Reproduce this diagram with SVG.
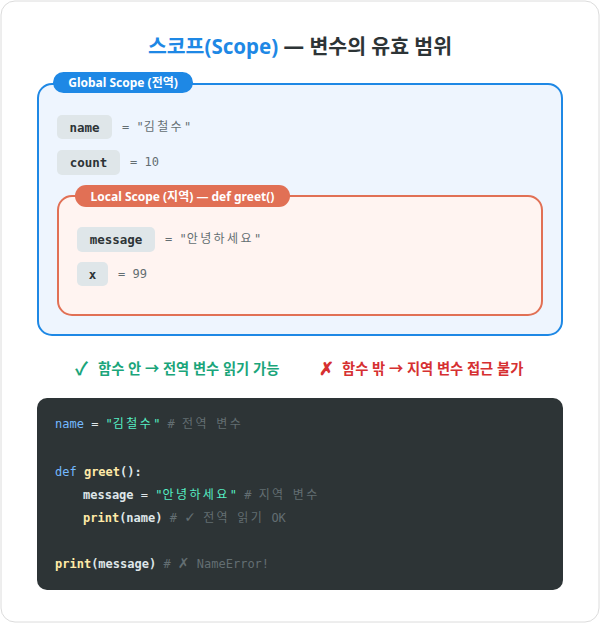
<svg xmlns="http://www.w3.org/2000/svg" width="600" height="623" viewBox="0 0 600 623">
<style>
.ui{font-family:"Noto Sans","Noto Sans CJK KR",sans-serif}
.mono{font-family:"DejaVu Sans Mono","Noto Sans CJK KR",monospace;font-size:12px}
.ko{font-family:"Noto Sans CJK KR",sans-serif;letter-spacing:2.4px}
.sym{font-family:"DejaVu Sans",sans-serif;font-size:14px}
.chip{fill:#dfe6e9}
.chipt{font-family:"DejaVu Sans Mono",monospace;font-size:12.5px;font-weight:bold;fill:#2d3436}
.val{font-family:"DejaVu Sans Mono","Noto Sans CJK KR",monospace;font-size:12px;fill:#636e72}
.pill{font-family:"Noto Sans","Noto Sans CJK KR",sans-serif;font-size:12px;font-weight:bold;fill:#fff}
.kw{fill:#74b9ff}.str{fill:#55efc4}.cm{fill:#636e72}.fn{fill:#ffeaa7}.tx{fill:#dfe6e9}
</style>
<rect x="1" y="1" width="598" height="621" rx="14" fill="#fff" stroke="#dcdcdc"/>
<text x="300" y="54" text-anchor="middle" class="ui" font-size="20.5" font-weight="bold"><tspan fill="#1e88e5">스코프(Scope)</tspan><tspan fill="#2d3436"> — 변수의 유효 범위</tspan></text>

<g id="global">
<rect x="38" y="84" width="524" height="251" rx="14" fill="#eef5fe" stroke="#1e88e5" stroke-width="2"/>
<rect x="53" y="72" width="140" height="21" rx="10.5" fill="#1e88e5"/>
<text x="123" y="87" text-anchor="middle" class="pill">Global Scope (전역)</text>
</g>
<g id="var-name">
<rect x="57" y="115" width="55" height="24" rx="5" class="chip"/>
<text x="84.5" y="132" text-anchor="middle" class="chipt">name</text>
<text x="122" y="131" class="val">= "<tspan class="ko">김철수</tspan>"</text>
</g>
<g id="var-count">
<rect x="57" y="150" width="63" height="25" rx="5" class="chip"/>
<text x="88.5" y="167" text-anchor="middle" class="chipt">count</text>
<text x="130" y="166" class="val">= 10</text>
</g>
<g id="local">
<rect x="58" y="196" width="484" height="119" rx="14" fill="#fff4f1" stroke="#e17055" stroke-width="2"/>
<rect x="75" y="185" width="215" height="22" rx="11" fill="#e17055"/>
<text x="182.5" y="200.5" text-anchor="middle" class="pill">Local Scope (지역) — def greet()</text>
</g>
<g id="var-message">
<rect x="77" y="227" width="78" height="25" rx="5" class="chip"/>
<text x="116" y="244" text-anchor="middle" class="chipt">message</text>
<text x="165" y="243" class="val">= "<tspan class="ko">안녕하세요</tspan>"</text>
</g>
<g id="var-x">
<rect x="77" y="262" width="31" height="24" rx="5" class="chip"/>
<text x="92.5" y="279" text-anchor="middle" class="chipt">x</text>
<text x="118" y="278" class="val">= 99</text>
</g>
<g id="notes" class="ui" font-size="14.3" font-weight="bold">
<text x="75" y="375" fill="#1aa57a"><tspan font-size="18">✓</tspan><tspan x="98" y="374">함수 안 → 전역 변수 읽기 가능</tspan></text>
<text x="319" y="375" fill="#d63031"><tspan font-size="18">✗</tspan><tspan x="342" y="374">함수 밖 → 지역 변수 접근 불가</tspan></text>
</g>
<g id="code">
<rect x="37" y="398" width="526" height="192" rx="10" fill="#2d3436"/>
<text x="55" y="428" class="mono"><tspan class="kw">name</tspan><tspan class="tx"> = </tspan><tspan class="str">"<tspan class="ko">김철수</tspan>"</tspan><tspan class="cm"> # <tspan class="ko">전역</tspan> <tspan class="ko">변수</tspan></tspan></text>
<text x="55" y="476" class="mono"><tspan class="kw">def</tspan><tspan class="fn" font-weight="bold"> greet</tspan><tspan class="tx" font-weight="bold">():</tspan></text>
<text x="83" y="499" class="mono"><tspan class="tx" font-weight="bold">message</tspan><tspan class="tx"> = </tspan><tspan class="str">"<tspan class="ko">안녕하세요</tspan>"</tspan><tspan class="cm"> # <tspan class="ko">지역</tspan> <tspan class="ko">변수</tspan></tspan></text>
<text x="83" y="522" class="mono"><tspan class="fn" font-weight="bold">print</tspan><tspan class="tx" font-weight="bold">(name)</tspan><tspan class="cm"> # <tspan class="sym">✓</tspan> <tspan class="ko">전역</tspan> <tspan class="ko">읽기</tspan> OK</tspan></text>
<text x="55" y="568" class="mono"><tspan class="fn" font-weight="bold">print</tspan><tspan class="tx" font-weight="bold">(message)</tspan><tspan class="cm"> # <tspan class="sym">✗</tspan> NameError!</tspan></text>
</g>
</svg>
